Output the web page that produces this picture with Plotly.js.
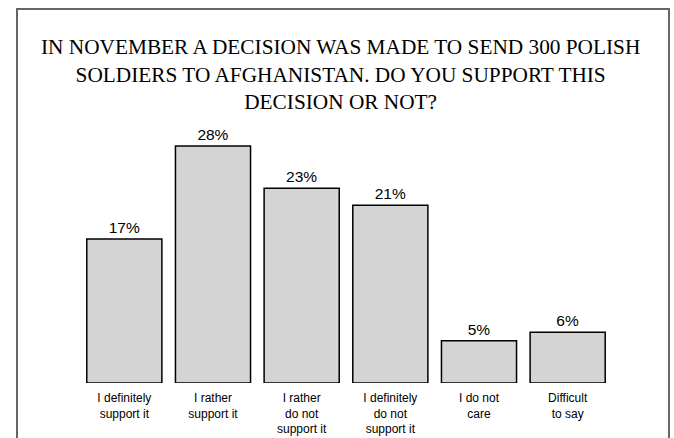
<!DOCTYPE html>
<html>
<head>
<meta charset="utf-8">
<script src="https://cdn.plot.ly/plotly-3.0.1.min.js"></script>
<style>html,body{margin:0;padding:0;background:#fff;}#chart{width:674px;height:438px;}</style>
</head>
<body>
<div id="chart"></div>
<script>
const categories = [
  "I definitely<br>support it",
  "I rather<br>support it",
  "I rather<br>do not<br>support it",
  "I definitely<br>do not<br>support it",
  "I do not<br>care",
  "Difficult<br>to say"
];
const values = [17, 28, 23, 21, 5, 6];
const valueLabels = values.map(v => v + "%");
const titleText = "IN NOVEMBER A DECISION WAS MADE TO SEND 300 POLISH<br>SOLDIERS TO AFGHANISTAN. DO YOU SUPPORT THIS<br>DECISION OR NOT?";

const SANS = "Liberation Sans";
const SERIF = "Liberation Serif";

const trace = {
  type: "bar",
  x: categories,
  y: values,
  text: valueLabels,
  textposition: "outside",
  cliponaxis: false,
  textfont: {family: SANS, size: 15.5, color: "#000"},
  marker: {color: "#d4d4d4", line: {color: "#000", width: 1.5}},
  hoverinfo: "none"
};

const layout = {
  width: 674, height: 438,
  margin: {l: 80, r: 62, t: 129, b: 55},
  paper_bgcolor: "#fff", plot_bgcolor: "#fff",
  bargap: 0.153,
  showlegend: false,
  xaxis: {
    type: "category",
    showline: false, showgrid: false, zeroline: false, ticks: "",
    tickfont: {family: SANS, size: 12, color: "#000"},
    ticklabelstandoff: 6,
    automargin: false
  },
  yaxis: {
    range: [0, 30], visible: false, showgrid: false, zeroline: false
  },
  annotations: [{
    xref: "paper", yref: "paper", x: 0.4906, y: 1.2126,
    xanchor: "center", yanchor: "middle", align: "center",
    text: titleText, showarrow: false,
    font: {family: SERIF, size: 21.3, color: "#000"}
  }],
  shapes: [{
    type: "rect", xref: "paper", yref: "paper",
    x0: -0.1184, x1: 1.1071, y0: -0.3, y1: 1.4724,
    line: {color: "#666", width: 2}, fillcolor: "rgba(0,0,0,0)", layer: "below"
  }]
};

Plotly.newPlot("chart", [trace], layout, {staticPlot: true, displayModeBar: false});
</script>
</body>
</html>
